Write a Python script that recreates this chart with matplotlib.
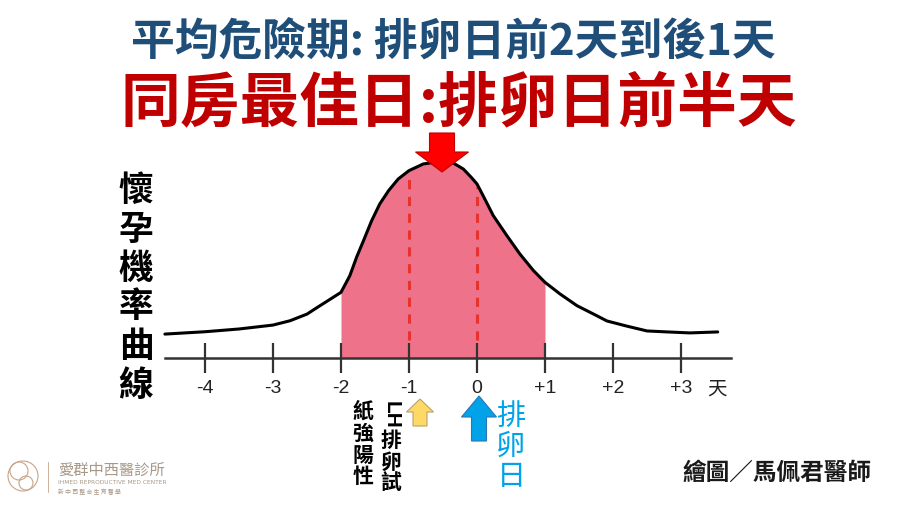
import numpy as np
import matplotlib
matplotlib.use("Agg")
import matplotlib.pyplot as plt
from matplotlib.patches import FancyArrow, Circle

plt.rcParams['font.family'] = ['Noto Sans CJK TC', 'DejaVu Sans']

# curve: day (0 = ovulation) and relative chance (peak = 1)
days = [-4.59, -4.0, -3.5, -3.0, -2.75, -2.5, -2.34, -2.19, -2.0, -1.87, -1.77, -1.67,
        -1.55, -1.43, -1.30, -1.16, -1.0, -0.79, -0.59, -0.35, -0.2, -0.08, 0.0, 0.09,
        0.24, 0.44, 0.63, 0.83, 1.0, 1.22, 1.47, 1.76, 1.91, 2.2, 2.5, 2.8, 3.13, 3.54]
chance = [0.122, 0.134, 0.148, 0.168, 0.19, 0.224, 0.26, 0.293, 0.335, 0.42, 0.515, 0.598,
          0.70, 0.786, 0.854, 0.913, 0.956, 0.99, 1.0, 0.995, 0.964, 0.92, 0.888, 0.828,
          0.726, 0.624, 0.531, 0.446, 0.386, 0.327, 0.267, 0.216, 0.189, 0.163, 0.138, 0.133,
          0.128, 0.133]
risk_start, risk_end = -2, 1
dash_days = [-1, 0]
dash_tops = [0.923, 0.872]
tick_days = [-4, -3, -2, -1, 0, 1, 2, 3]
tick_labels = ['-4', '-3', '-2', '-1', '0', '+1', '+2', '+3']

title1 = '平均危險期: 排卵日前2天到後1天'
title2 = '同房最佳日:排卵日前半天'
ylabel = '懷孕機率曲線'
lh_col1 = '排卵試'
lh_col2 = '紙強陽性'
ovu_text = '排卵日'
sign = '繪圖／馬佩君醫師'

W, H = 900, 506
fig = plt.figure(figsize=(9, 5.06), dpi=100, facecolor='white')

# chart axes, whole figure; day -> pixel is 477 + 68*d, chance -> pixel is 359 - 196*p
ax = fig.add_axes([0, 0, 1, 1])
ax.set_xlim(-477 / 68, (W - 477) / 68)
ax.set_ylim(-(H - 359) / 196, 359 / 196)
ax.patch.set_alpha(0)

d = np.array(days)
p = np.array(chance)
m = (d >= risk_start) & (d <= risk_end)
ax.fill_between(d[m], p[m], 0, color='#EE7289', lw=0, zorder=1)
ax.plot(d, p, color='black', lw=2.2, zorder=3, solid_joinstyle='round', solid_capstyle='round')
ax.vlines(dash_days, 0.09, dash_tops, colors='#E8322E', linestyles=(0, (3, 2.5)), lw=2.2, zorder=2)

for s in ['left', 'right', 'top']:
    ax.spines[s].set_visible(False)
ax.spines['bottom'].set_position(('data', 0))
ax.spines['bottom'].set_bounds(-4.59, 3.74)
ax.spines['bottom'].set_color('#333333')
ax.spines['bottom'].set_linewidth(1.8)
ax.spines['bottom'].set_zorder(4)
ax.set_yticks([])
ax.set_xticks(tick_days, tick_labels)
ax.tick_params(axis='x', direction='inout', length=21, width=1.6, color='#333333',
               pad=4.5, labelsize=14, labelcolor='#222222')
for t in ax.get_xticklabels():
    t.set_family('Liberation Sans')

# overlay in pixel units for the texts and arrows
ov = fig.add_axes([0, 0, 1, 1])
ov.set_xlim(0, W)
ov.set_ylim(H, 0)
ov.axis('off')

ov.text(453, 42, title1, ha='center', va='center', fontsize=31.5, fontweight='bold', color='#1F4E79')
ov.text(459, 104, title2, ha='center', va='center', fontsize=43, fontweight='bold', color='#C00000')

for i, ch in enumerate(ylabel):
    ov.text(136, 190 + 39 * i, ch, ha='center', va='center', fontsize=25, fontweight='bold', color='black')

ov.text(717, 389, '天', ha='center', va='center', fontsize=14, color='#222222')

# arrows
ov.add_patch(FancyArrow(442, 134, 0, 39, width=25, head_width=53, head_length=20,
                        length_includes_head=True, fc='#FF0000', ec='#C00000', lw=0.8, zorder=5))
ov.add_patch(FancyArrow(420, 427, 0, -27, width=14, head_width=27, head_length=13,
                        length_includes_head=True, fc='#FFD966', ec='#B8A070', lw=0.8))
ov.add_patch(FancyArrow(479, 442, 0, -45, width=15, head_width=35, head_length=21,
                        length_includes_head=True, fc='#00A2E8', ec='#2E75B6', lw=0.8))

# LH text, two vertical columns
ov.text(391, 415, 'LH', rotation=-90, ha='center', va='center', fontsize=15,
        fontweight='bold', color='black', family='Liberation Sans')
for i, ch in enumerate(lh_col1):
    ov.text(391, 441 + 21 * i, ch, ha='center', va='center', fontsize=15, fontweight='bold', color='black')
for i, ch in enumerate(lh_col2):
    ov.text(363, 411 + 22 * i, ch, ha='center', va='center', fontsize=15, fontweight='bold', color='black')

for i, ch in enumerate(ovu_text):
    ov.text(511, 417 + 30 * i, ch, ha='center', va='center', fontsize=21, color='#00A2E8')

ov.text(777, 473, sign, ha='center', va='center', fontsize=17, fontweight='bold', color='#1A1A1A')

# clinic logo, bottom left
logo_c = '#C8A48A'
ov.add_patch(Circle((23, 477), 15, fill=False, ec=logo_c, lw=0.8))
ov.add_patch(Circle((19, 472), 9, fill=False, ec=logo_c, lw=0.8))
ov.add_patch(Circle((26, 484), 7, fill=False, ec=logo_c, lw=0.8))
ov.plot([48, 48], [463, 493], color=logo_c, lw=0.6)
ov.text(58, 470, '愛群中西醫診所', ha='left', va='center', fontsize=11, color='#A89888')
ov.text(58, 483, 'IHMED REPRODUCTIVE MED CENTER', ha='left', va='center', fontsize=4.2,
        color='#A89888', family='DejaVu Sans')
ov.text(58, 492, '新 中 西 整 合 生 育 醫 學', ha='left', va='center', fontsize=4.2, color='#A89888')

fig.savefig('out.png', dpi=100, facecolor='white')
